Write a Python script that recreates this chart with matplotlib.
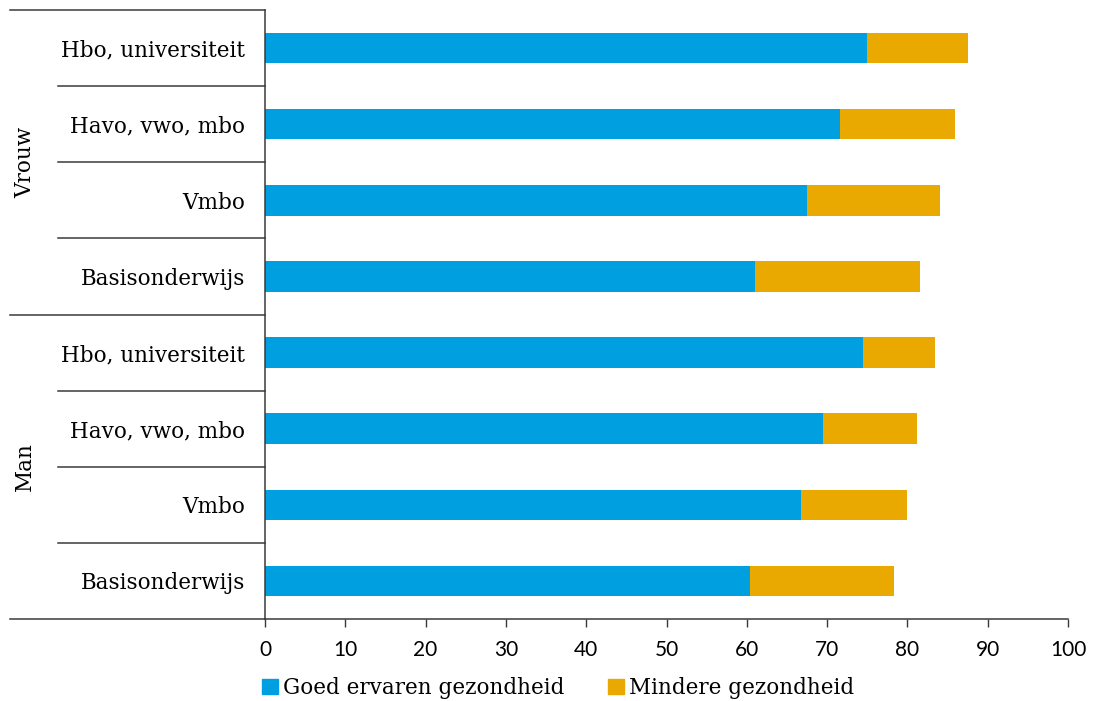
import matplotlib
matplotlib.use('Agg')
import matplotlib.pyplot as plt
from matplotlib import font_manager
from matplotlib.patches import Patch
import numpy as np

# onderwijsniveau per geslacht, van boven naar beneden
groups = ['Vrouw', 'Man']
levels = ['Hbo, universiteit', 'Havo, vwo, mbo', 'Vmbo', 'Basisonderwijs']
goed = [75.0, 71.6, 67.5, 61.0, 74.5, 69.5, 66.7, 60.4]
totaal = [87.5, 85.9, 84.1, 81.6, 83.4, 81.2, 80.0, 78.3]
mindere = [t - g for t, g in zip(totaal, goed)]
series_names = ['Goed ervaren gezondheid', 'Mindere gezondheid']
xticks = list(range(0, 101, 10))

blue = '#009FE0'
orange = '#E9A900'
line_col = '#3a3a3a'

available = set(font_manager.get_font_names())
serif = [f for f in ['DejaVu Serif', 'Liberation Serif'] if f in available][:1] + ['DejaVu Sans']
sans = [f for f in ['Lato', 'Open Sans'] if f in available][:1] + ['DejaVu Sans']

fig = plt.figure(figsize=(10.93, 7.01), dpi=100)
ax = fig.add_axes([265/1093, 1 - 619/701, 803/1093, 609/701])

labels = levels * len(groups)
y = np.arange(len(labels))
ax.barh(y, goed, height=0.4, color=blue)
ax.barh(y, mindere, left=goed, height=0.4, color=orange)

ax.set_ylim(len(labels) - 0.5, -0.5)
ax.set_xlim(0, 100)
ax.set_xticks(xticks)
ax.set_xticklabels([str(v) for v in xticks], family=sans, fontsize=15)
ax.tick_params(axis='x', length=6, width=1, color=line_col, pad=9)
ax.set_yticks(y)
ax.set_yticklabels(labels, family=serif, fontsize=15.5)
ax.tick_params(axis='y', length=0, pad=14.5)

for s in ['top', 'right']:
    ax.spines[s].set_visible(False)
for s in ['left', 'bottom']:
    ax.spines[s].set_color(line_col)
    ax.spines[s].set_linewidth(1.1)

trans = ax.get_yaxis_transform()
x_far = -255/803
x_near = -207/803
ax.plot([x_far, 0], [-0.5, -0.5], transform=trans, color=line_col, lw=1.1, clip_on=False)
for i in range(1, len(labels)):
    x0 = x_far if i % len(levels) == 0 else x_near
    ax.plot([x0, 0], [i - 0.5, i - 0.5], transform=trans, color=line_col, lw=1.1, clip_on=False)
ax.plot([x_far, 0], [len(labels) - 0.5, len(labels) - 0.5], transform=trans,
        color=line_col, lw=1.1, clip_on=False)

for k, g in enumerate(groups):
    yc = k * len(levels) + (len(levels) - 1) / 2
    ax.text(-240/803, yc, g, transform=trans, rotation=90, ha='center', va='center',
            family=serif, fontsize=15.5)

handles = [Patch(color=blue), Patch(color=orange)]
fig.legend(handles, series_names, loc='center', bbox_to_anchor=(558/1093, 1 - 688/701),
           ncol=2, frameon=False, handlelength=0.75, handleheight=0.75, handletextpad=0.25,
           columnspacing=2.0, prop={'family': serif, 'size': 15.5})

fig.savefig('out.png', dpi=100)
